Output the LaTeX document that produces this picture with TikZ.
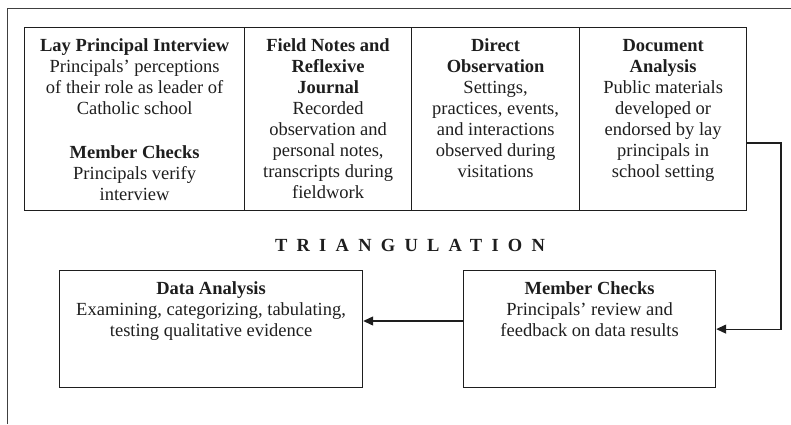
\documentclass[tikz,border=0pt]{standalone}
\usepackage{fontspec}
\setmainfont{Liberation Serif}
\usetikzlibrary{arrows.meta}
\definecolor{ink}{HTML}{1E1E1E}
\newcommand\boxcontent[3]{\parbox[c][#2][t]{#1}{\centering\vspace*{9pt}\strut#3}}
\begin{document}
\begin{tikzpicture}[x=1pt,y=-1pt,
  font=\fontsize{18.5}{21}\selectfont,
  every node/.style={text=ink},
  bx/.style={draw=ink, line width=1.2pt, inner sep=0pt, anchor=north west},
  frame/.style={draw=ink!85, line width=1pt},
  arr/.style={draw=ink, line width=1.2pt, -{Triangle[length=10pt,width=9pt]}}]
\useasboundingbox (0,0) rectangle (791,424);
\draw[frame] (7,424) -- (7,8) -- (791,8);

\node[bx] (lay) at (24,27) {\boxcontent{220pt}{183pt}{\textbf{Lay Principal Interview}\\ Principals’ perceptions\\ of their role as leader of\\ Catholic school\\[23pt] \textbf{Member Checks}\\ Principals verify\\ interview}};
\node[bx] (field) at (244,27) {\boxcontent{167pt}{183pt}{\textbf{Field Notes and}\\ \textbf{Reflexive}\\ \textbf{Journal}\\ Recorded\\ observation and\\ personal notes,\\ transcripts during\\ fieldwork}};
\node[bx] (obs) at (411,27) {\boxcontent{168pt}{183pt}{\textbf{Direct}\\ \textbf{Observation}\\ Settings,\\ practices, events,\\ and interactions\\ observed during\\ visitations}};
\node[bx] (doc) at (579,27) {\boxcontent{167pt}{183pt}{\textbf{Document}\\ \textbf{Analysis}\\ Public materials\\ developed or\\ endorsed by lay\\ principals in\\ school setting}};

\node (tri) at (410,245) {\bfseries\addfontfeature{LetterSpace=50}TRIANGULATION};

\node[bx] (da) at (59,270) {\boxcontent{303pt}{117pt}{\textbf{Data Analysis}\\ Examining, categorizing, tabulating,\\ testing qualitative evidence}};
\node[bx] (mc) at (463,270) {\boxcontent{252pt}{117pt}{\textbf{Member Checks}\\ Principals’ review and\\ feedback on data results}};

\coordinate (bend) at (781,143);
\coordinate (midarrow) at (412,321);
\draw[arr] (doc.east |- bend) -- (bend) |- (mc.east);
\draw[arr] (mc.west |- midarrow) -- (da.east |- midarrow);
\end{tikzpicture}
\end{document}
